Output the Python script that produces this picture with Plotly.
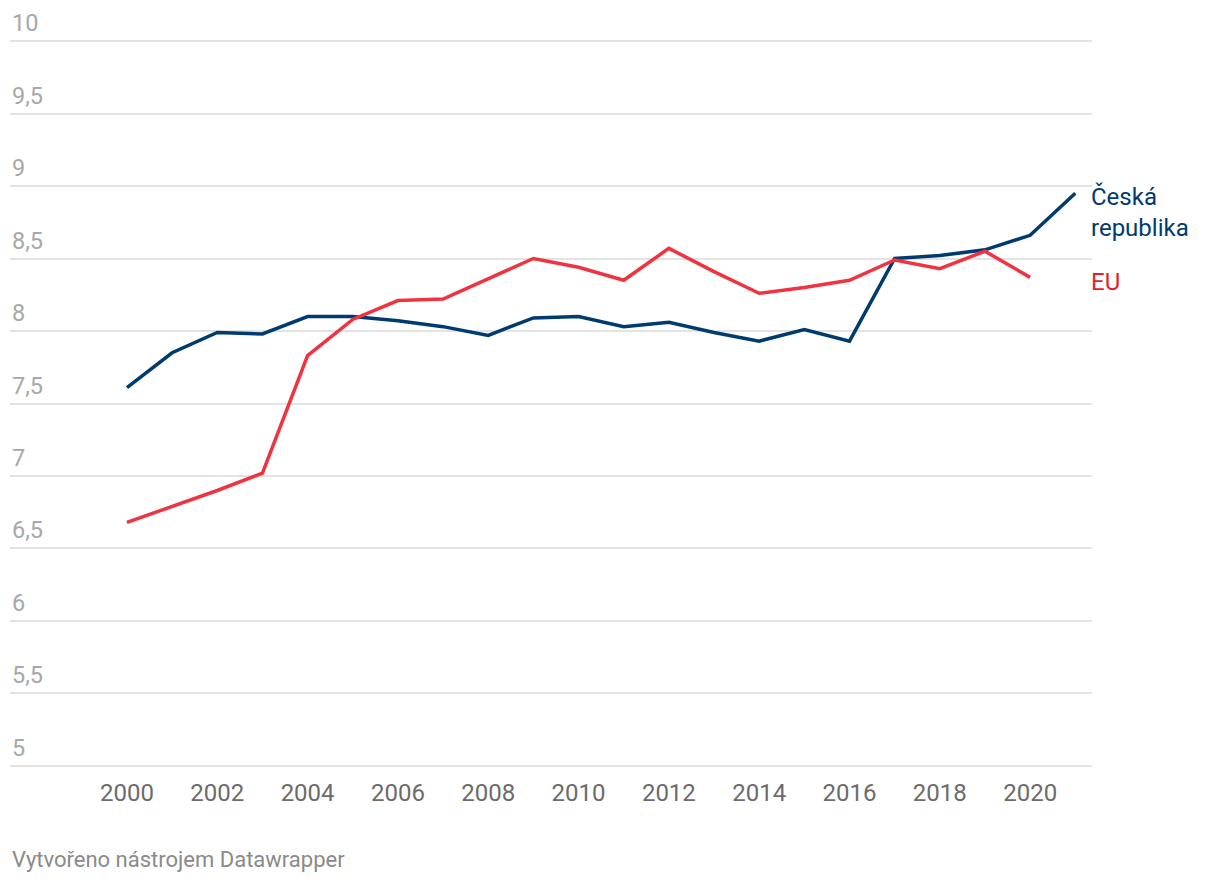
import plotly.graph_objects as go

years_cz = list(range(2000, 2022))
cz = [7.61, 7.85, 7.99, 7.98, 8.10, 8.10, 8.07, 8.03, 7.97, 8.09, 8.10, 8.03, 8.06,
      7.99, 7.93, 8.01, 7.93, 8.50, 8.52, 8.56, 8.66, 8.95]
years_eu = list(range(2000, 2021))
eu = [6.68, 6.79, 6.90, 7.02, 7.83, 8.08, 8.21, 8.22, 8.36, 8.50, 8.44, 8.35, 8.57,
      8.41, 8.26, 8.30, 8.35, 8.49, 8.43, 8.55, 8.37]

y_ticks = [5, 5.5, 6, 6.5, 7, 7.5, 8, 8.5, 9, 9.5, 10]
y_tick_labels = ["5", "5,5", "6", "6,5", "7", "7,5", "8", "8,5", "9", "9,5", "10"]
x_ticks = [2000, 2002, 2004, 2006, 2008, 2010, 2012, 2014, 2016, 2018, 2020]

BLUE = "#003b6f"
RED = "#ef3340"
FONT = "Roboto"

fig = go.Figure()
fig.add_trace(go.Scatter(x=years_cz, y=cz, mode="lines", name="Česká republika",
                         line=dict(color=BLUE, width=3.5), hoverinfo="x+y"))
fig.add_trace(go.Scatter(x=years_eu, y=eu, mode="lines", name="EU",
                         line=dict(color=RED, width=3.5), hoverinfo="x+y"))

annotations = []
for v, t in zip(y_ticks, y_tick_labels):
    annotations.append(dict(x=0, xref="paper", y=v, yref="y", text=t, showarrow=False,
                            xanchor="left", yanchor="bottom", yshift=2,
                            font=dict(family=FONT, size=23.5, color="#a8a8a8")))

annotations.append(dict(x=1, xref="paper", y=8.82, yref="y", text="Česká<br>republika",
                        showarrow=False, xanchor="left", yanchor="middle", align="left",
                        xshift=-3,
                        font=dict(family=FONT, size=24, color=BLUE)))
annotations.append(dict(x=1, xref="paper", y=8.34, yref="y", text="EU",
                        showarrow=False, xanchor="left", yanchor="middle", align="left",
                        xshift=-3,
                        font=dict(family=FONT, size=24, color="#e31e2d")))
annotations.append(dict(x=0, xref="paper", y=0, yref="paper", text="Vytvořeno nástrojem Datawrapper",
                        showarrow=False, xanchor="left", yanchor="middle", yshift=-92,
                        font=dict(family=FONT, size=22, color="#8a8a8a")))

fig.update_layout(
    width=1220, height=882,
    margin=dict(l=2, r=136, t=32, b=123),
    paper_bgcolor="white", plot_bgcolor="white",
    showlegend=False,
    font=dict(family=FONT),
    annotations=annotations,
    xaxis=dict(range=[1997.41, 2021.37], tickvals=x_ticks, ticks="", showgrid=False,
               zeroline=False, showline=False, ticklabelstandoff=9,
               tickfont=dict(family=FONT, size=24, color="#6b6b6b")),
    yaxis=dict(range=[4.993, 10.007], tickvals=y_ticks, showticklabels=False, ticks="",
               showgrid=True, gridcolor="#e3e3e3", gridwidth=2, zeroline=False,
               showline=False),
)

fig.write_html("out.html")
